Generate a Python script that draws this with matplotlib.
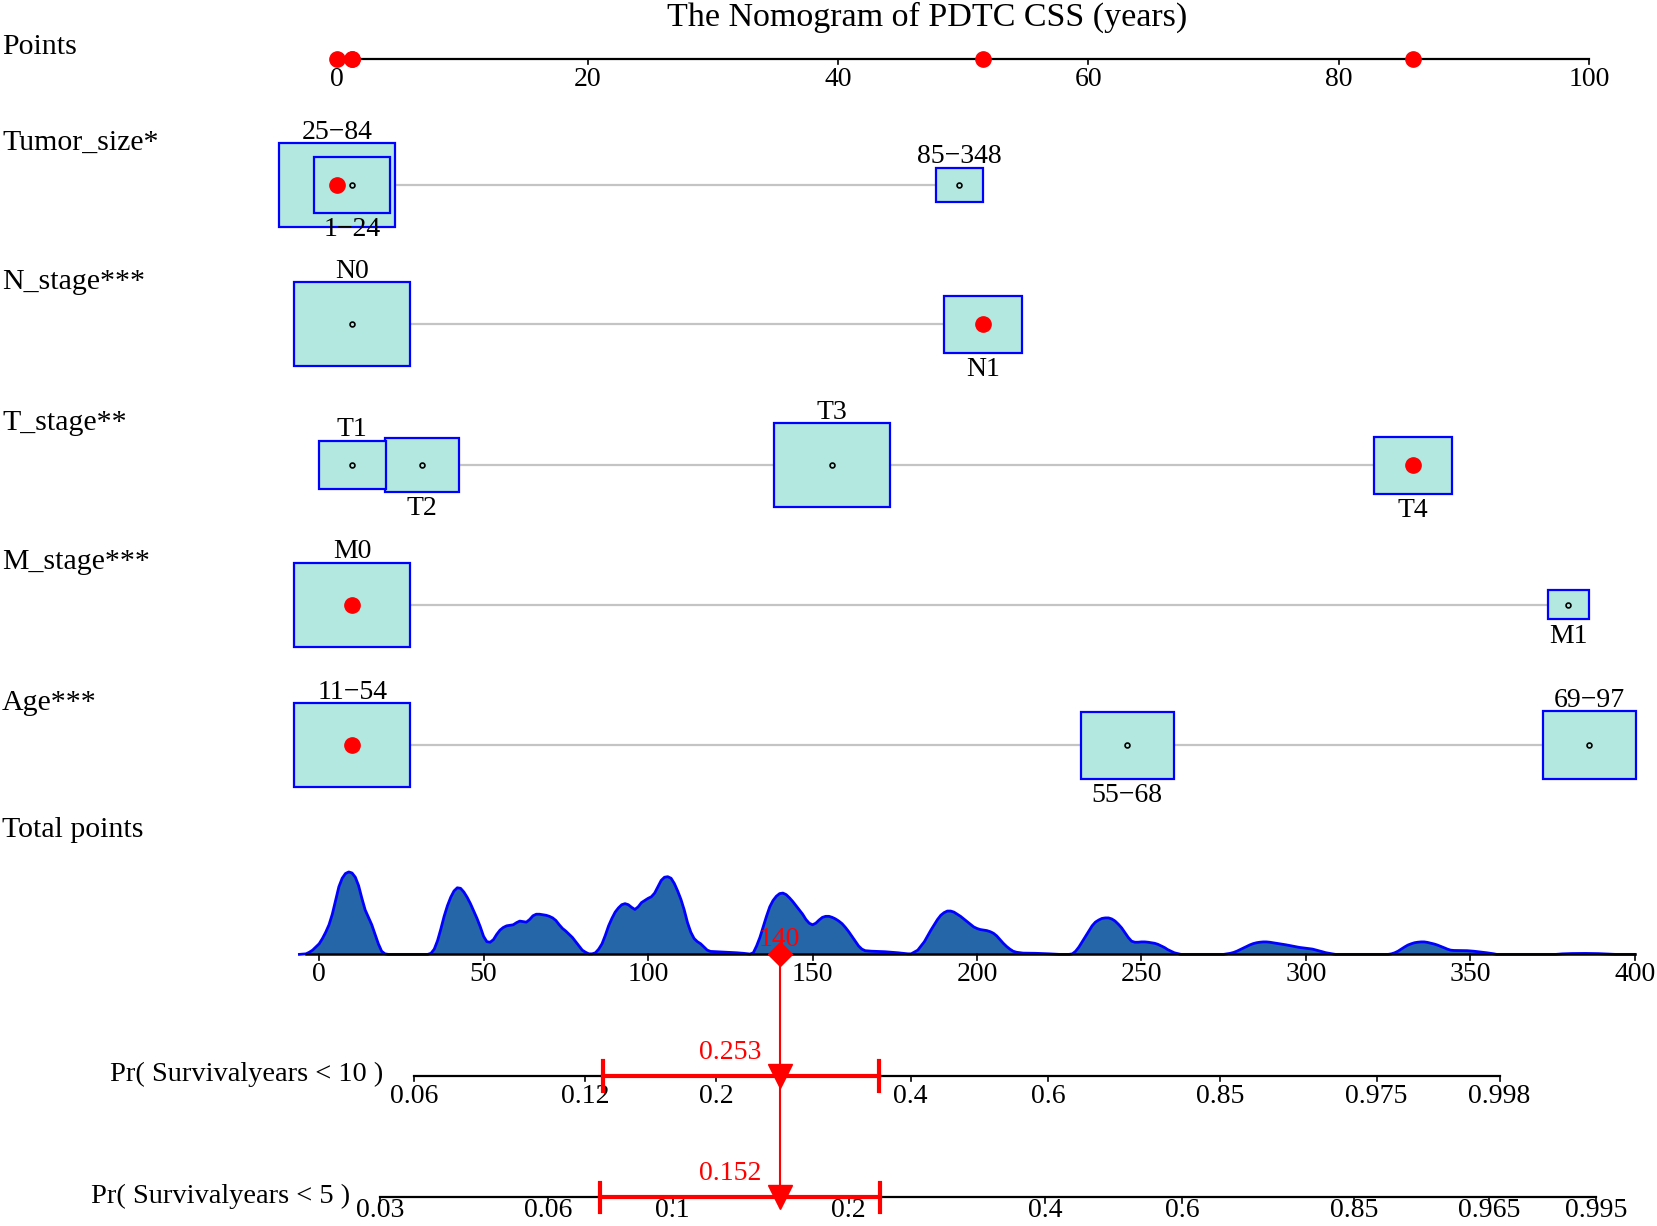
import matplotlib.pyplot as plt
from matplotlib.patches import Rectangle
import numpy as np

plt.rcParams['font.family'] = ['Liberation Serif', 'DejaVu Serif']

# ---------------- data ----------------
title = "The Nomogram of PDTC CSS (years)"
var_names = ["Tumor_size*", "N_stage***", "T_stage**", "M_stage***", "Age***"]

tumor_levels = ["25\u221284", "1\u221224", "85\u2212348"]
tumor_points = [0.0, 1.2, 49.7]
tumor_freq = [1.0, 0.436, 0.165]

n_levels = ["N0", "N1"]
n_points = [1.2, 51.6]
n_freq = [1.0, 0.45]

t_levels = ["T1", "T2", "T3", "T4"]
t_points = [1.2, 6.8, 39.5, 85.9]
t_freq = [0.333, 0.41, 1.0, 0.46]

m_levels = ["M0", "M1"]
m_points = [1.2, 98.3]
m_freq = [1.0, 0.125]

age_levels = ["11\u221254", "55\u221268", "69\u221297"]
age_points = [1.2, 63.1, 100.0]
age_freq = [1.0, 0.64, 0.645]

# the patient shown in red
obs_levels = ["25\u221284", "N1", "T4", "M0", "11\u221254"]
total_obs = 140

points_ticks = [0, 20, 40, 60, 80, 100]
total_ticks = [0, 50, 100, 150, 200, 250, 300, 350, 400]

# density of total points (x = total points, y = relative height)
dens_x = [-6, -4, -3, -2, -1, 0, 1, 2, 3, 4, 5, 6, 7, 8, 9, 10, 11, 12, 13, 14, 15, 16, 17, 18, 19, 20, 21,
          33, 34, 35, 36, 37, 38, 39, 40, 41, 42, 43, 44, 45, 46, 47, 48, 49, 50, 51, 52, 53, 54, 55, 56,
          57, 58, 59, 60, 61, 62, 63, 64, 65, 66, 67, 68, 69, 70, 71, 72, 73, 74, 75, 76, 77, 78, 79, 80,
          81, 82, 83, 84, 85, 86, 87, 88, 89, 90, 91, 92, 93, 94, 95, 96, 97, 98, 99, 100, 101, 102, 103,
          104, 105, 106, 107, 108, 109, 110, 111, 112, 113, 114, 115, 116, 117, 118, 119, 121, 124, 127,
          129, 131, 132, 133, 134, 135, 136, 137, 138, 139, 140, 141, 142, 143, 144, 145, 146, 147, 148,
          149, 150, 151, 152, 153, 154, 155, 156, 157, 158, 159, 160, 161, 162, 163, 164, 165, 166, 168,
          172, 176, 179, 180, 182, 184, 186, 188, 189, 190, 191, 192, 193, 194, 195, 196, 197, 198, 199,
          200, 201, 202, 203, 204, 205, 206, 207, 208, 209, 210, 211, 212, 214, 218, 222, 225,
          228, 229, 230, 231, 232, 233, 234, 235, 236, 237, 238, 239, 240, 241, 242, 243, 244, 245, 246,
          247, 248, 249, 250, 251, 252, 253, 254, 255, 256, 257, 258, 259, 260, 261, 262,
          275, 277, 278, 279, 280, 281, 282, 283, 284, 285, 286, 287, 288, 289, 290, 291, 292, 294, 296,
          298, 300, 302, 303, 304, 305, 306, 307, 308, 309,
          325, 326, 327, 328, 329, 330, 331, 332, 333, 334, 335, 336, 337, 338, 339, 340, 341, 342, 343,
          344, 345, 347, 349, 351, 353, 355, 357, 358,
          376, 378, 381, 385, 389, 392, 394, 400]
dens_y = [0, 0.5, 2, 4, 7, 10, 15, 21, 28, 38, 51, 64, 72, 76.5, 78, 77, 73, 65, 53, 42, 35, 28, 19, 10, 3, 0.5, 0,
          0, 1, 5, 13, 24, 36, 46, 54, 60, 63, 62.5, 59, 54, 48, 41, 34, 26, 17, 12, 11.5, 14, 19, 23, 25.5,
          27, 27.5, 28, 30, 31.5, 31, 30.5, 33, 36.5, 38, 38, 37.5, 37, 36, 34.5, 32, 28, 24.5, 22, 19, 16, 12, 8, 4,
          2, 0.5, 0.5, 1.5, 5, 10, 18, 27, 34, 40, 44, 47, 48, 47, 44.5, 42.5, 45, 49, 51, 53, 54.5, 58, 64,
          70, 73, 73.5, 72, 67, 60, 52, 42, 30, 21, 15, 12, 10, 7, 4, 2.8, 2.5, 2, 1.5,
          1, 0.3, 1.5, 8, 16, 26, 36, 45, 51, 55, 57.5, 58, 56.5, 53.5, 50, 46, 42, 38, 33,
          29.5, 28, 29.5, 32.5, 35, 36, 36, 35, 33.5, 31.5, 29, 25.5, 21.5, 17, 12.5, 8, 5, 3.5, 3,
          2.5, 1.5, 0.5, 0.5, 4, 12, 23, 33, 37, 39.5, 41, 41, 40, 38, 36, 33.5, 31, 28.5, 26,
          24.5, 23.5, 23, 22.5, 21.5, 20, 17.5, 14, 10.5, 7.5, 5, 3, 2, 1.2, 1, 0.5, 0,
          0, 0.5, 3, 7, 12, 17, 22, 27, 30.5, 32.5, 34, 34.5, 34.5, 33.5, 31.5, 28.5, 25, 20.5, 16,
          12.5, 11.5, 11.5, 11.8, 11.8, 11.5, 11, 10.5, 9.5, 8, 6.5, 4.5, 3, 1.5, 0.7, 0,
          0, 1, 1.8, 3, 4.5, 6, 7.5, 9, 10.2, 11, 11.5, 11.8, 11.8, 11.5, 11, 10.5, 10, 9, 7.8,
          6.6, 5.8, 5, 4.2, 3.4, 2.5, 1.6, 1, 0.5, 0,
          0, 0.5, 1.5, 3, 5, 7, 8.8, 10, 11, 11.5, 11.8, 11.8, 11.3, 10.6, 9.8, 8.8, 7.6, 6.3, 5,
          4, 3.7, 3.6, 3.5, 3, 2.3, 1.5, 0.6, 0,
          0, 0.5, 0.8, 0.9, 0.7, 0.3, 0, 0]

# probability scales: tick labels and where they sit on the total points scale
pr10_labels = ["0.06", "0.12", "0.2", "0.4", "0.6", "0.85", "0.975", "0.998"]
pr10_at = [28.8, 80.9, 120.8, 179.8, 221.6, 274.0, 321.5, 358.9]
pr10_obs = "0.253"
pr10_ci = [86.4, 170.3]

pr5_labels = ["0.03", "0.06", "0.1", "0.2", "0.4", "0.6", "0.85", "0.965", "0.995"]
pr5_at = [18.6, 69.5, 107.5, 161.0, 220.8, 262.4, 314.6, 355.6, 388.3]
pr5_obs = "0.152"
pr5_ci = [85.5, 170.6]

# ---------------- layout (in a 1568 x 1160 page grid) ----------------
W, H = 1568.0, 1160.0
PTS_X0, PTS_X1 = 319.0, 1504.0
TOT_X0, TOT_X1 = 302.0, 1547.0
POINTS_Y = 56
ROW_Y = [175, 307, 440, 572, 705]
DENS_BASE = 903
DENS_H = 78
PR_Y = [1018, 1133]
PR_LAB_OFF = [19.5, 12.5]   # last row sits on the page edge
BOXW_PX, BOXH_PX = 109.5, 79.5
TICK = 5
LAB_OFF = 19.5

BOX_FC = '#b3e8e0'
BOX_EC = '#0000ff'
RED = '#ff0000'
FS_LAB = 21.5
FS_TICK = 20

fig = plt.figure(figsize=(16.57, 12.26), dpi=100)

sp = (PTS_X1 - PTS_X0) / 100.0
ax_p = fig.add_axes([0, 0, 1, 1])
ax_p.set_xlim(-PTS_X0 / sp, (W - PTS_X0) / sp)
ax_p.set_ylim(H, 0)
ax_p.set_axis_off()

st = (TOT_X1 - TOT_X0) / 400.0
ax_t = fig.add_axes([0, 0, 1, 1])
ax_t.set_xlim(-TOT_X0 / st, (W - TOT_X0) / st)
ax_t.set_ylim(H, 0)
ax_t.set_axis_off()


def label(y, s):
    fig.text(2 / W, 1 - y / H, s, ha='left', va='center', fontsize=FS_LAB)


fig.text(877 / W, 1 - 16 / H, title, ha='center', va='center', fontsize=24.5)

# Points scale
label(POINTS_Y - 12, "Points")
ax_p.plot([points_ticks[0], points_ticks[-1]], [POINTS_Y, POINTS_Y], color='black', lw=1.6)
for t in points_ticks:
    ax_p.plot([t, t], [POINTS_Y, POINTS_Y + TICK], color='black', lw=1.2)
    ax_p.text(t, POINTS_Y + LAB_OFF, str(t), ha='center', va='center', fontsize=FS_TICK)

rows = [(tumor_levels, tumor_points, tumor_freq),
        (n_levels, n_points, n_freq),
        (t_levels, t_points, t_freq),
        (m_levels, m_points, m_freq),
        (age_levels, age_points, age_freq)]

obs_pts = []
for i, (levels, pts, freq) in enumerate(rows):
    y = ROW_Y[i]
    label(y - 40, var_names[i])
    ax_p.plot([min(pts), max(pts)], [y, y], color='#c4c4c4', lw=1.6, zorder=1)
    # big boxes first so small ones stay visible
    order = sorted(range(len(levels)), key=lambda k: -freq[k])
    for k in order:
        w = BOXW_PX / sp * np.sqrt(freq[k])
        h = BOXH_PX * np.sqrt(freq[k])
        ax_p.add_patch(Rectangle((pts[k] - w / 2, y - h / 2), w, h, fc=BOX_FC, ec=BOX_EC,
                                 lw=1.6, zorder=2))
        ax_p.plot(pts[k], y, 'o', ms=3.5, mfc='none', mec='black', mew=1.2, zorder=3)
    # level names alternate above / below, by position
    by_pos = sorted(range(len(levels)), key=lambda k: pts[k])
    for n, k in enumerate(by_pos):
        h = BOXH_PX * np.sqrt(freq[k])
        if n % 2 == 0:
            ax_p.text(pts[k], y - h / 2 + 1.5, levels[k], ha='center', va='bottom', fontsize=FS_TICK)
        else:
            ax_p.text(pts[k], y + h / 2 + 4, levels[k], ha='center', va='top', fontsize=FS_TICK)
    p_obs = pts[levels.index(obs_levels[i])]
    obs_pts.append(p_obs)
    ax_p.plot(p_obs, y, 'o', color=RED, ms=11, zorder=5)

for p in obs_pts:
    ax_p.plot(p, POINTS_Y, 'o', color=RED, ms=11, zorder=5)

# Total points with density
label(785, "Total points")
dy = np.array(dens_y, dtype=float)
dens_top = DENS_BASE - dy * DENS_H / dy.max()
ax_t.fill_between(dens_x, DENS_BASE, dens_top, color='#2566a8', lw=0, zorder=1)
ax_t.plot(dens_x, dens_top, color='#0000ff', lw=2, zorder=2)
ax_t.plot([-4, total_ticks[-1]], [DENS_BASE, DENS_BASE], color='black', lw=1.8, zorder=3)
for t in total_ticks:
    ax_t.plot([t, t], [DENS_BASE, DENS_BASE + TICK], color='black', lw=1.2, zorder=3)
    ax_t.text(t, DENS_BASE + LAB_OFF, str(t), ha='center', va='center', fontsize=FS_TICK)

ax_t.plot([total_obs, total_obs], [DENS_BASE, PR_Y[1]], color=RED, lw=1.5, zorder=4)
ax_t.plot(total_obs, DENS_BASE, 'D', color=RED, ms=12, zorder=6)
ax_t.text(total_obs, DENS_BASE - 14, str(total_obs), color=RED, ha='center', va='center',
          fontsize=FS_TICK, zorder=6)

# probability scales
pr_rows = [(PR_Y[0], "Pr( Survivalyears < 10 )", pr10_labels, pr10_at, pr10_obs, pr10_ci),
           (PR_Y[1], "Pr( Survivalyears < 5 )", pr5_labels, pr5_at, pr5_obs, pr5_ci)]
for j, (y, name, labs, at, obs, ci) in enumerate(pr_rows):
    ax_t.plot([at[0], at[-1]], [y, y], color='black', lw=1.6, zorder=2)
    for lab, a in zip(labs, at):
        ax_t.plot([a, a], [y, y + TICK], color='black', lw=1.2, zorder=2)
        ax_t.text(a, y + PR_LAB_OFF[j], lab, ha='center', va='center', fontsize=FS_TICK)
    ax_t.annotate(name, xy=(at[0], y), xytext=(-22, 1), textcoords='offset points',
                  ha='right', va='center', fontsize=20.5)
    ax_t.plot(ci, [y, y], color=RED, lw=3, zorder=4)
    for c in ci:
        ax_t.plot([c, c], [y - 14, y + 14], color=RED, lw=3, zorder=4)
    ax_t.plot(total_obs, y, 'v', color=RED, ms=17, zorder=5)
    ax_t.annotate(obs, xy=(total_obs, y), xytext=(-13, 17), textcoords='offset points',
                  ha='right', va='center', color=RED, fontsize=FS_TICK, zorder=6)

fig.savefig('out.png', dpi=100)
